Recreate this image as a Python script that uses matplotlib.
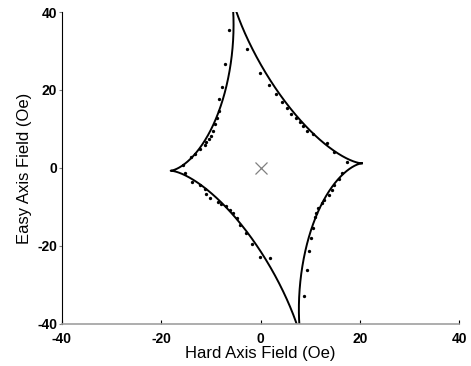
import numpy as np
import matplotlib
matplotlib.use('Agg')
import matplotlib.pyplot as plt

plt.rcParams['font.family'] = ['Liberation Sans', 'DejaVu Sans']
plt.rcParams['axes.unicode_minus'] = False

# measured switching fields (Oe): hard axis, easy axis
hard_pts = [-6.3, -7.2, -7.7, -8.3, -8.4, -8.8, -9.2, -9.5, -9.9, -10.4, -10.9, -11.2,
            -12.2, -13.2, -14.1, -15.6,
            -15.3, -13.9, -12.2, -11.2, -10.9, -10.2, -8.6, -7.9, -7.0, -6.2, -5.5,
            -4.8, -4.1, -3.0, -1.8, -0.1, 1.85,
            -2.8, -0.1, 1.7, 3.2, 4.4, 5.3, 6.2, 7.2, 8.0, 8.6, 9.4, 10.6, 13.3, 14.9, 17.5,
            16.4, 15.8, 14.9, 14.4, 13.8, 12.7, 12.3, 11.6, 11.1, 10.9, 10.6, 10.1, 9.8,
            9.4, 8.7]
easy_pts = [35.5, 26.7, 20.8, 17.7, 14.6, 12.7, 11.3, 9.5, 8.2, 7.4, 6.7, 6.0,
            4.8, 3.6, 2.7, 0.8,
            -1.4, -3.5, -4.4, -5.5, -6.7, -7.8, -8.7, -9.2, -9.7, -10.8, -11.6,
            -12.9, -14.7, -16.7, -19.4, -22.8, -23.0,
            30.5, 24.3, 21.2, 18.9, 16.9, 15.3, 13.9, 12.7, 11.7, 10.8, 9.6, 8.7, 6.3, 4.2, 1.6,
            -1.4, -2.8, -4.4, -5.6, -6.8, -8.3, -9.1, -10.3, -11.6, -12.5, -15.5, -17.9, -21.2,
            -26.2, -32.8]

# fitted astroid: centre, hard-axis cusp vector, easy-axis cusp vector
centre = (1.15, 0.25)
u_vec = (19.25, 0.95)
v_vec = (-7.0, 44.0)

t = np.linspace(0, 2 * np.pi, 2000)
c3 = np.cos(t) ** 3
s3 = np.sin(t) ** 3
ast_x = centre[0] + u_vec[0] * c3 + v_vec[0] * s3
ast_y = centre[1] + u_vec[1] * c3 + v_vec[1] * s3

fig = plt.figure(figsize=(4.71, 3.66), dpi=100)
ax = fig.add_axes([0.1316, 0.1148, 0.843, 0.8524])

ax.plot(ast_x, ast_y, color='black', lw=1.4)
ax.plot(hard_pts, easy_pts, 'o', color='black', ms=2.4, mec='none')
ax.plot([0], [0], 'x', color='#808080', ms=8, mew=0.9)

ax.set_xlim(-40, 40)
ax.set_ylim(-40, 40)
ax.set_xticks([-40, -20, 0, 20, 40])
ax.set_yticks([-40, -20, 0, 20, 40])

for s in ['top', 'right']:
    ax.spines[s].set_visible(False)
ax.spines['left'].set_color('black')
ax.spines['bottom'].set_color('#a0a0a0')
ax.spines['bottom'].set_linewidth(1.2)

ax.tick_params(axis='x', direction='in', length=3, pad=6, color='black')
ax.tick_params(axis='y', direction='out', length=2.5, pad=1, color='#808080')
for lab in ax.get_xticklabels() + ax.get_yticklabels():
    lab.set_fontsize(10)
    lab.set_fontweight('bold')

ax.set_xlabel('Hard Axis Field (Oe)', fontsize=12, labelpad=0)
ax.set_ylabel('Easy Axis Field (Oe)', fontsize=12, labelpad=4)

fig.savefig('out.png', dpi=100)
